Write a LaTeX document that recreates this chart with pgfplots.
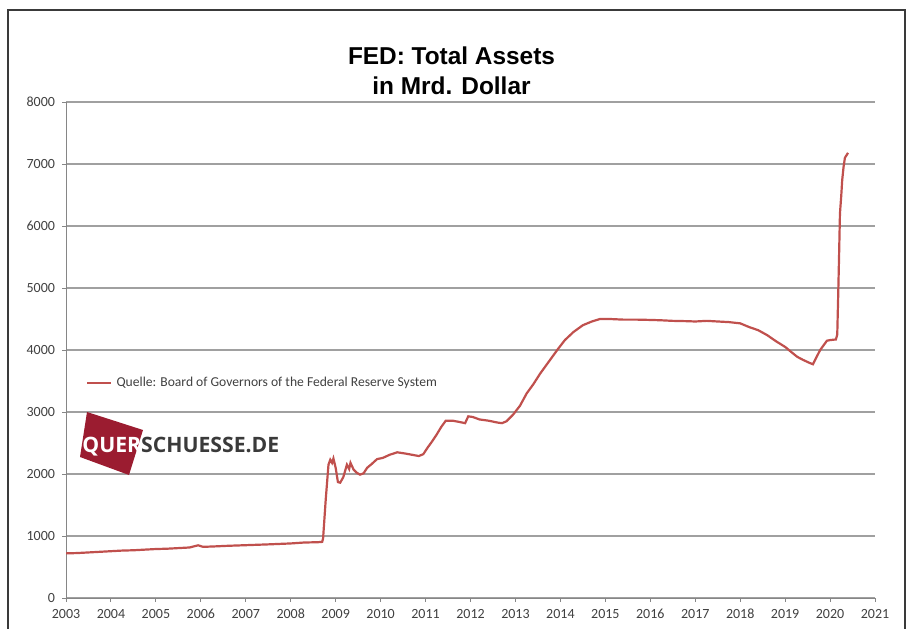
\documentclass[border=0pt]{standalone}
\usepackage{pgfplots}
\pgfplotsset{compat=1.18}
\usepackage{fontspec}
\setmainfont{Carlito}
\newfontfamily\titlefont{Liberation Sans}
\newfontfamily\logofont{Open Sans}

\definecolor{fedred}{HTML}{C0504D}
\definecolor{gridgray}{HTML}{A0A0A0}
\definecolor{axisgray}{HTML}{868686}
\definecolor{labelgray}{HTML}{404040}
\definecolor{logored}{HTML}{9B1C30}
\definecolor{framegray}{HTML}{3A3A3A}

\begin{document}
\begin{tikzpicture}
% frame, titles and logo in reference pixels (1px = 0.5pt)
\begin{scope}[x=0.5pt,y=0.5pt]
\useasboundingbox (0,0) rectangle (909,628);
\draw[framegray, line width=1pt] (8,-5) -- (8,618) -- (905,618) -- (905,-5);
\node[font=\titlefont\bfseries\fontsize{12.2}{14}\selectfont, anchor=base] at (451.5,563) {FED: Total Assets};
\node[font=\titlefont\bfseries\fontsize{12.2}{14}\selectfont, anchor=base] at (451.5,533) {in Mrd. Dollar};
\end{scope}

\begin{axis}[
  at={(33pt,15pt)}, anchor=south west,
  scale only axis, width=404.5pt, height=248pt,
  xmin=2003, xmax=2021, ymin=0, ymax=8000,
  xtick distance=1, ytick distance=1000,
  axis x line*=bottom, axis y line*=left,
  axis line style={draw=axisgray, line width=0.5pt, -},
  ymajorgrids, grid style={gridgray, line width=0.9pt},
  tick align=outside, major tick length=2pt,
  tick style={axisgray, line width=0.5pt},
  /pgf/number format/assume math mode=true,
  /pgf/number format/1000 sep={},
  ticklabel style={font=\fontsize{7}{8}\selectfont, text=labelgray},
  legend style={at={(0.0247,0.4335)}, anchor=west, draw=none, fill=none,
    inner sep=0pt, font=\fontsize{6.8}{8}\selectfont, text=labelgray},
  legend cell align=left,
  legend image code/.code={\draw[#1] (0pt,0pt) -- (12pt,0pt);},
]
\addplot[fedred, line width=1.1pt] coordinates {
(2003.00,720) (2003.25,725) (2003.50,735) (2003.75,745) (2004.00,755)
(2004.25,765) (2004.50,770) (2004.75,780) (2005.00,790) (2005.25,795)
(2005.50,805) (2005.75,815) (2005.94,850) (2006.05,825) (2006.30,832)
(2006.60,842) (2007.00,852) (2007.50,865) (2008.00,880) (2008.30,895)
(2008.60,900) (2008.70,905) (2008.72,960) (2008.78,1600) (2008.84,2150)
(2008.88,2230) (2008.92,2180) (2008.95,2250) (2009.00,2100) (2009.05,1870)
(2009.10,1860) (2009.17,1950) (2009.25,2150) (2009.30,2080) (2009.33,2180)
(2009.40,2070) (2009.47,2020) (2009.54,1990) (2009.62,2010) (2009.70,2100)
(2009.80,2160) (2009.92,2240) (2010.05,2260) (2010.20,2310) (2010.37,2350)
(2010.55,2330) (2010.70,2310) (2010.85,2290) (2010.95,2320) (2011.05,2430)
(2011.15,2530) (2011.25,2640) (2011.35,2760) (2011.45,2860) (2011.60,2860)
(2011.75,2840) (2011.88,2820) (2011.95,2930) (2012.05,2920) (2012.20,2880)
(2012.40,2860) (2012.60,2830) (2012.70,2820) (2012.80,2850) (2012.95,2960)
(2013.10,3100) (2013.25,3300) (2013.40,3450) (2013.55,3620) (2013.70,3770)
(2013.85,3920) (2013.95,4020) (2014.10,4160) (2014.29,4290) (2014.50,4400)
(2014.70,4460) (2014.88,4500) (2015.10,4500) (2015.40,4490) (2015.70,4490)
(2016.00,4485) (2016.22,4480) (2016.50,4470) (2016.82,4465) (2017.00,4460)
(2017.26,4470) (2017.50,4460) (2017.75,4450) (2018.00,4430) (2018.20,4370)
(2018.40,4320) (2018.60,4240) (2018.80,4140) (2019.00,4050) (2019.15,3960)
(2019.27,3890) (2019.40,3840) (2019.55,3790) (2019.62,3770) (2019.68,3860)
(2019.78,4000) (2019.86,4080) (2019.93,4150) (2020.00,4160) (2020.13,4170)
(2020.16,4250) (2020.18,4850) (2020.20,5500) (2020.22,6200) (2020.25,6500)
(2020.27,6740) (2020.30,6950) (2020.33,7100) (2020.40,7180)
};
\addlegendentry{Quelle: Board of Governors of the Federal Reserve System}
\end{axis}

\begin{scope}[x=0.5pt,y=0.5pt]
\fill[logored] (87,216) -- (143,198) -- (129,153) -- (80,171) -- cycle;
\node[anchor=base west, inner sep=0pt, font=\logofont\bfseries\fontsize{10.6}{13}\selectfont]
  at (82,176) {\textcolor{white}{QUER}\textcolor{framegray}{SCHUESSE.DE}};
\end{scope}
\end{tikzpicture}
\end{document}
